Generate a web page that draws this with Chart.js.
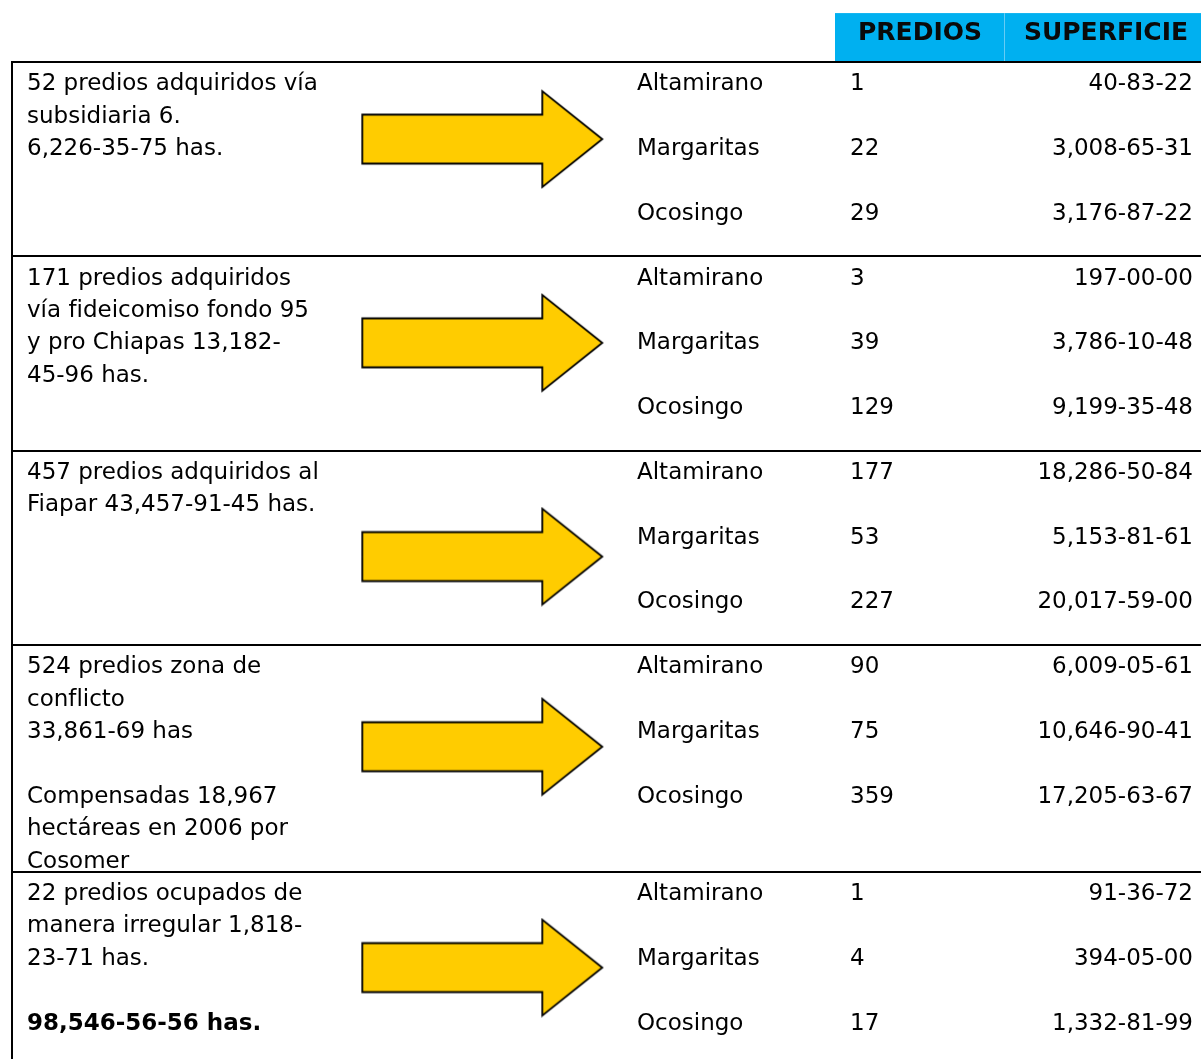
<!DOCTYPE html>
<html lang="es">
<head>
<meta charset="utf-8">
<title>Predios adquiridos por municipio</title>
<script src="https://cdn.jsdelivr.net/npm/chart.js@4.4.1/dist/chart.umd.min.js"></script>
<style>
    html, body { margin: 0; padding: 0; background: #fff; overflow: hidden; }
    #contenedor { position: relative; width: 1201px; height: 1059px; }
</style>
</head>
<body>
<div id="contenedor"><canvas id="tabla-predios"></canvas></div>
<script>
// --- DATOS ---
const encabezados = ['PREDIOS', 'SUPERFICIE'];
const municipios = ['Altamirano', 'Margaritas', 'Ocosingo'];

const descSubsidiaria = ['52 predios adquiridos vía', 'subsidiaria 6.', '6,226-35-75 has.'];
const descFideicomiso = ['171 predios adquiridos', 'vía fideicomiso fondo 95', 'y pro Chiapas 13,182-', '45-96 has.'];
const descFiapar = ['457 predios adquiridos al', 'Fiapar 43,457-91-45 has.'];
const descConflicto = ['524 predios zona de', 'conflicto', '33,861-69 has', '', 'Compensadas 18,967', 'hectáreas en 2006 por', 'Cosomer'];
const descIrregulares = ['22 predios ocupados de', 'manera irregular 1,818-', '23-71 has.', ''];
const totalGeneral = '98,546-56-56 has.';

const prediosSubsidiaria = [1, 22, 29];
const prediosFideicomiso = [3, 39, 129];
const prediosFiapar = [177, 53, 227];
const prediosConflicto = [90, 75, 359];
const prediosIrregulares = [1, 4, 17];

const superficieSubsidiaria = ['40-83-22', '3,008-65-31', '3,176-87-22'];
const superficieFideicomiso = ['197-00-00', '3,786-10-48', '9,199-35-48'];
const superficieFiapar = ['18,286-50-84', '5,153-81-61', '20,017-59-00'];
const superficieConflicto = ['6,009-05-61', '10,646-90-41', '17,205-63-67'];
const superficieIrregulares = ['91-36-72', '394-05-00', '1,332-81-99'];

// --- DISPOSICIÓN ---
const ANCHO = 1201, ALTO = 1059;
const LINEA = 32.39;          // alto de una línea de texto (px)
const TOPE = 62;              // borde superior de la tabla (px)
const inicioBloque = [0, 6, 12, 18, 25];          // en líneas
const posFlecha = [2.38, 2.67, 3.27, 3.14, 2.96]; // en líneas, desde el inicio del bloque
const COL = { borde: 12, desc: 27, flecha: 482.3, mun: 637, pred: 850, sup: 1193 };
const FUENTE = '23px "DejaVu Sans", Verdana, sans-serif';
const FUENTE_NEGRITA = 'bold 23px "DejaVu Sans", Verdana, sans-serif';

const bloques = [
    { desc: descSubsidiaria, predios: prediosSubsidiaria, sup: superficieSubsidiaria },
    { desc: descFideicomiso, predios: prediosFideicomiso, sup: superficieFideicomiso },
    { desc: descFiapar, predios: prediosFiapar, sup: superficieFiapar },
    { desc: descConflicto, predios: prediosConflicto, sup: superficieConflicto },
    { desc: descIrregulares.concat([totalGeneral]), predios: prediosIrregulares, sup: superficieIrregulares }
];

// --- FLECHA AMARILLA (pointStyle) ---
const flecha = document.createElement('canvas');
flecha.width = 244;
flecha.height = 100;
(() => {
    const c = flecha.getContext('2d');
    const cx = 2, cy = 50;
    c.beginPath();
    c.moveTo(cx, cy - 24.5);
    c.lineTo(cx + 180, cy - 24.5);
    c.lineTo(cx + 180, cy - 48);
    c.lineTo(cx + 240, cy);
    c.lineTo(cx + 180, cy + 48);
    c.lineTo(cx + 180, cy + 24.5);
    c.lineTo(cx, cy + 24.5);
    c.closePath();
    c.fillStyle = '#FFCC00';
    c.fill();
    c.lineWidth = 1.8;
    c.strokeStyle = '#000';
    c.lineJoin = 'miter';
    c.stroke();
})();

// --- PUNTOS POR CELDA ---
const filas = (x, campo) => bloques.flatMap((b, g) =>
    municipios.map((m, i) => ({ x: x, y: inicioBloque[g] + 2 * i + 0.5, texto: campo === 'mun' ? m : String(b[campo][i]) })));
const lineasDesc = bloques.flatMap((b, g) =>
    b.desc.map((t, i) => ({ x: COL.desc, y: inicioBloque[g] + i + 0.5, texto: t, negrita: t === totalGeneral })));
const puntosFlecha = bloques.map((b, g) => ({ x: COL.flecha, y: inicioBloque[g] + posFlecha[g] }));

// --- PLUGIN: líneas, encabezado y textos ---
const tablaPlugin = {
    id: 'tabla',
    beforeDatasetsDraw(chart) {
        const { ctx, scales: { x, y } } = chart;
        ctx.save();
        // encabezado
        ctx.fillStyle = '#00B0F0';
        const yTop = y.getPixelForValue(-1.51), yBot = y.getPixelForValue(0);
        ctx.fillRect(x.getPixelForValue(835), yTop, x.getPixelForValue(ANCHO) - x.getPixelForValue(835), yBot - yTop);
        ctx.strokeStyle = '#66CCF5';
        ctx.lineWidth = 1;
        ctx.beginPath();
        ctx.moveTo(x.getPixelForValue(1004.5), yTop);
        ctx.lineTo(x.getPixelForValue(1004.5), yBot);
        ctx.stroke();
        ctx.fillStyle = '#0a0a0a';
        ctx.font = 'bold 25px "DejaVu Sans", Verdana, sans-serif';
        ctx.textAlign = 'center';
        ctx.textBaseline = 'alphabetic';
        ctx.fillText(encabezados[0], x.getPixelForValue(920), y.getPixelForValue(-0.68));
        ctx.fillText(encabezados[1], x.getPixelForValue(1106), y.getPixelForValue(-0.68));
        // bordes de la tabla
        ctx.strokeStyle = '#000';
        ctx.lineWidth = 2;
        ctx.beginPath();
        inicioBloque.forEach(l => {
            const py = Math.round(y.getPixelForValue(l));
            ctx.moveTo(x.getPixelForValue(COL.borde) - 1, py);
            ctx.lineTo(x.getPixelForValue(ANCHO), py);
        });
        const bx = Math.round(x.getPixelForValue(COL.borde));
        ctx.moveTo(bx, y.getPixelForValue(0));
        ctx.lineTo(bx, y.getPixelForValue((ALTO - TOPE) / LINEA));
        ctx.stroke();
        ctx.restore();
    },
    afterDatasetsDraw(chart) {
        const { ctx } = chart;
        ctx.save();
        ctx.fillStyle = '#000';
        ctx.textBaseline = 'alphabetic';
        chart.data.datasets.forEach((ds, i) => {
            if (!ds.alinear) return;
            const meta = chart.getDatasetMeta(i);
            ctx.textAlign = ds.alinear;
            meta.data.forEach((el, j) => {
                const p = ds.data[j];
                ctx.font = p.negrita ? FUENTE_NEGRITA : FUENTE;
                ctx.fillText(p.texto, el.x, el.y + 12);
            });
        });
        ctx.restore();
    }
};

// --- GRÁFICO ---
new Chart(document.getElementById('tabla-predios'), {
    type: 'scatter',
    data: {
        datasets: [
            { label: 'Flechas', data: puntosFlecha, pointStyle: flecha, pointRadius: 10 },
            { label: 'Descripción', data: lineasDesc, pointRadius: 0, alinear: 'left' },
            { label: 'Municipio', data: filas(COL.mun, 'mun'), pointRadius: 0, alinear: 'left' },
            { label: 'Predios', data: filas(COL.pred, 'predios'), pointRadius: 0, alinear: 'left' },
            { label: 'Superficie', data: filas(COL.sup, 'sup'), pointRadius: 0, alinear: 'right' }
        ]
    },
    options: {
        responsive: true,
        maintainAspectRatio: false,
        animation: false,
        events: [],
        layout: { padding: 0, autoPadding: false },
        plugins: { legend: { display: false }, tooltip: { enabled: false } },
        scales: {
            x: { type: 'linear', min: 0, max: ANCHO, display: false },
            y: { type: 'linear', min: -TOPE / LINEA, max: (ALTO - TOPE) / LINEA, reverse: true, display: false }
        }
    },
    plugins: [tablaPlugin]
});
</script>
</body>
</html>
